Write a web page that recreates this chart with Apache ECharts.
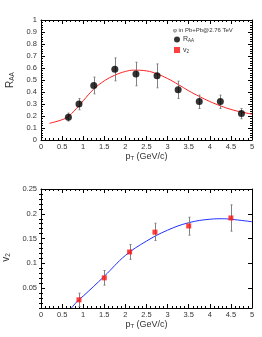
<!DOCTYPE html>
<html>
<head>
<meta charset="utf-8">
<script src="https://cdn.jsdelivr.net/npm/echarts@6/dist/echarts.min.js"></script>
<style>html,body{margin:0;padding:0;background:#fff;}#c{width:262px;height:337px;}</style>
</head>
<body>
<div id="c"></div>
<script>
// ---- data (top panel: R_AA) ----
const raaPt = [0.65, 0.9, 1.25, 1.75, 2.25, 2.75, 3.25, 3.75, 4.25, 4.75];
const raaVal = [0.19, 0.30, 0.455, 0.59, 0.55, 0.535, 0.418, 0.32, 0.32, 0.22];
const raaLow = [0.158, 0.252, 0.385, 0.493, 0.452, 0.435, 0.346, 0.263, 0.263, 0.177];
const raaHigh = [0.224, 0.346, 0.524, 0.684, 0.648, 0.634, 0.49, 0.374, 0.374, 0.263];
const raaFitPt = [0.2, 0.5, 0.65, 0.9, 1.0, 1.25, 1.5, 1.75, 2.0, 2.2, 2.5, 2.75, 3.0, 3.25, 3.5, 3.75, 4.0, 4.25, 4.5, 4.75, 5.0];
const raaFitVal = [0.139, 0.169, 0.197, 0.285, 0.327, 0.424, 0.493, 0.54, 0.571, 0.582, 0.576, 0.551, 0.512, 0.463, 0.41, 0.363, 0.321, 0.285, 0.255, 0.233, 0.216];
// ---- data (bottom panel: v2) ----
const v2Pt = [0.9, 1.5, 2.1, 2.7, 3.5, 4.5];
const v2Val = [0.0265, 0.0708, 0.123, 0.163, 0.1755, 0.1916];
const v2Low = [0.013, 0.0561, 0.108, 0.146, 0.157, 0.165];
const v2High = [0.040, 0.0856, 0.138, 0.181, 0.193, 0.218];
const v2FitPt = [0.72, 0.9, 1.0, 1.5, 2.0, 2.5, 3.0, 3.5, 4.0, 4.3, 4.5, 5.0];
const v2FitVal = [0.01, 0.027, 0.034, 0.074, 0.116, 0.145, 0.167, 0.182, 0.189, 0.19, 0.189, 0.184];
// ---- tick values ----
const v2MajorTicks = [0.05, 0.1, 0.15, 0.2, 0.25];
const v2MinorTicks = [0.01, 0.02, 0.03, 0.04, 0.06, 0.07, 0.08, 0.09, 0.11, 0.12, 0.13, 0.14, 0.16, 0.17, 0.18, 0.19, 0.21, 0.22, 0.23, 0.24];
const legendTitle = 'φ in Pb+Pb@2.76 TeV';

const FONT = 'Liberation Sans';
const TXT = '#333';
const zip = (a, b) => a.map((v, i) => [v, b[i]]);
const zip3 = (a, b, c) => a.map((v, i) => [v, b[i], c[i]]);

function errBar(cap) {
  return function (params, api) {
    const x = api.value(0), lo = api.value(1), hi = api.value(2);
    const p1 = api.coord([x, hi]), p2 = api.coord([x, lo]);
    const xs = Math.round(p1[0]) + 0.5;
    const ch = [{ type: 'line', shape: { x1: xs, y1: p1[1], x2: xs, y2: p2[1] }, style: { stroke: '#808080', lineWidth: 1 } }];
    if (cap) {
      ch.push({ type: 'line', shape: { x1: xs - cap, y1: p1[1], x2: xs + cap, y2: p1[1] }, style: { stroke: '#808080', lineWidth: 1 } });
      ch.push({ type: 'line', shape: { x1: xs - cap, y1: p2[1], x2: xs + cap, y2: p2[1] }, style: { stroke: '#808080', lineWidth: 1 } });
    }
    return { type: 'group', children: ch };
  };
}

const lbl = { fontFamily: FONT, fontSize: 7.5, color: TXT };
const lineStyle = { color: '#000', width: 1 };

function xAxes(grid, labelMargin, nameGap) {
  return [{
    type: 'value', gridIndex: grid, min: 0, max: 5, interval: 0.5,
    axisLine: { show: true, onZero: false, lineStyle },
    axisTick: { show: true, inside: true, length: 4, lineStyle },
    minorTick: { show: true, splitNumber: 5, length: 2, lineStyle },
    splitLine: { show: false },
    axisLabel: Object.assign({ margin: labelMargin, formatter: v => String(v) }, lbl),
    name: '{m|p}{s|T}{m| (GeV/c)}', nameLocation: 'middle', nameGap: nameGap,
    nameTextStyle: { fontFamily: FONT, color: TXT, rich: { m: { fontFamily: FONT, fontSize: 9, color: TXT }, s: { fontFamily: FONT, fontSize: 6, color: TXT, verticalAlign: 'bottom', padding: [4, 0, 0, 0] } } }
  }, {
    type: 'value', gridIndex: grid, min: 0, max: 5, interval: 0.5, position: 'top',
    axisLine: { show: true, onZero: false, lineStyle },
    axisTick: { show: true, inside: true, length: 4, lineStyle },
    minorTick: { show: true, splitNumber: 5, length: 2, lineStyle },
    splitLine: { show: false }, axisLabel: { show: false }
  }];
}

const option = {
  animation: false,
  backgroundColor: '#fff',
  title: { text: legendTitle, left: 173, top: 27, padding: 0, textStyle: { fontFamily: FONT, fontSize: 6, fontWeight: 'normal', color: TXT } },
  legend: {
    left: 174, top: 36, orient: 'vertical', itemWidth: 6, itemHeight: 6, itemGap: 3, padding: 0,
    data: [{ name: 'RAA', icon: 'circle' }, { name: 'v2', icon: 'rect' }],
    formatter: n => n === 'RAA' ? '{m|R}{s|AA}' : '{m|v}{s|2}',
    textStyle: { fontFamily: FONT, color: TXT, padding: [0, 0, 0, -2], rich: { m: { fontFamily: FONT, fontSize: 7, color: TXT }, s: { fontFamily: FONT, fontSize: 4.5, color: TXT, verticalAlign: 'bottom', padding: [3, 0, 0, 0] } } }
  },
  grid: [
    { left: 41, top: 20, width: 211, height: 120, containLabel: false, outerBoundsMode: 'none' },
    { left: 41, top: 189, width: 211, height: 119, containLabel: false, outerBoundsMode: 'none' }
  ],
  xAxis: [].concat(xAxes(0, 3, 9), xAxes(1, 3, 9)),
  yAxis: [
    {
      type: 'value', gridIndex: 0, min: 0, max: 1, interval: 0.1,
      axisLine: { show: true, onZero: false, lineStyle },
      axisTick: { show: true, inside: true, length: 4, lineStyle },
      minorTick: { show: true, splitNumber: 5, length: 2, lineStyle },
      splitLine: { show: false },
      axisLabel: Object.assign({ margin: 4, formatter: v => String(v) }, lbl),
      name: '{m|R}{s|AA}', nameLocation: 'middle', nameGap: 23,
      nameTextStyle: { fontFamily: FONT, color: TXT, rich: { m: { fontFamily: FONT, fontSize: 10, color: TXT }, s: { fontFamily: FONT, fontSize: 6.5, color: TXT, verticalAlign: 'bottom', padding: [4, 0, 0, 0] } } }
    },
    {
      type: 'value', gridIndex: 0, min: 0, max: 1, interval: 0.1, position: 'right',
      axisLine: { show: true, onZero: false, lineStyle },
      axisTick: { show: true, inside: true, length: 4, lineStyle },
      minorTick: { show: true, splitNumber: 5, length: 2, lineStyle },
      splitLine: { show: false }, axisLabel: { show: false }
    },
    {
      type: 'value', gridIndex: 1, min: 0.01, max: 0.25,
      axisLine: { show: true, onZero: false, lineStyle },
      axisTick: { show: true, inside: true, length: 4, lineStyle, customValues: v2MajorTicks },
      splitLine: { show: false },
      axisLabel: Object.assign({ margin: 4, customValues: v2MajorTicks, formatter: v => String(v) }, lbl),
      name: '{m|v}{s|2}', nameLocation: 'middle', nameGap: 23,
      nameTextStyle: { fontFamily: FONT, color: TXT, padding: [0, 0, 0, -18], rich: { m: { fontFamily: FONT, fontSize: 10, color: TXT }, s: { fontFamily: FONT, fontSize: 6.5, color: TXT, verticalAlign: 'bottom', padding: [4, 0, 0, 0] } } }
    },
    {
      type: 'value', gridIndex: 1, min: 0.01, max: 0.25, position: 'right',
      axisLine: { show: true, onZero: false, lineStyle },
      axisTick: { show: true, inside: true, length: 4, lineStyle, customValues: v2MajorTicks },
      splitLine: { show: false }, axisLabel: { show: false }
    },
    {
      type: 'value', gridIndex: 1, min: 0.01, max: 0.25, position: 'left',
      axisLine: { show: false },
      axisTick: { show: true, inside: true, length: 2, lineStyle, customValues: v2MinorTicks },
      splitLine: { show: false }, axisLabel: { show: false }
    },
    {
      type: 'value', gridIndex: 1, min: 0.01, max: 0.25, position: 'right',
      axisLine: { show: false },
      axisTick: { show: true, inside: true, length: 2, lineStyle, customValues: v2MinorTicks },
      splitLine: { show: false }, axisLabel: { show: false }
    }
  ],
  series: [
    { type: 'line', name: 'RAAfit', xAxisIndex: 0, yAxisIndex: 0, data: zip(raaFitPt, raaFitVal), smooth: 0.4, symbol: 'none', lineStyle: { color: '#ff2020', width: 1 }, z: 2 },
    { type: 'custom', name: 'RAAerr', xAxisIndex: 0, yAxisIndex: 0, data: zip3(raaPt, raaLow, raaHigh), encode: { x: 0, y: [1, 2] }, renderItem: errBar(1), z: 3 },
    { type: 'scatter', name: 'RAA', xAxisIndex: 0, yAxisIndex: 0, data: zip(raaPt, raaVal), symbol: 'circle', symbolSize: 7, itemStyle: { color: '#000' }, z: 4 },
    { type: 'line', name: 'v2fit', xAxisIndex: 2, yAxisIndex: 2, data: zip(v2FitPt, v2FitVal), smooth: 0.4, symbol: 'none', lineStyle: { color: '#2030ff', width: 1 }, z: 2 },
    { type: 'custom', name: 'v2err', xAxisIndex: 2, yAxisIndex: 2, data: zip3(v2Pt, v2Low, v2High), encode: { x: 0, y: [1, 2] }, renderItem: errBar(1), z: 3 },
    { type: 'scatter', name: 'v2', xAxisIndex: 2, yAxisIndex: 2, data: zip(v2Pt, v2Val), symbol: 'rect', symbolSize: 5, itemStyle: { color: '#ff1010' }, z: 4 }
  ]
};
const chart = echarts.init(document.getElementById('c'), null, { renderer: 'canvas' });
chart.setOption(option);
</script>
</body>
</html>
